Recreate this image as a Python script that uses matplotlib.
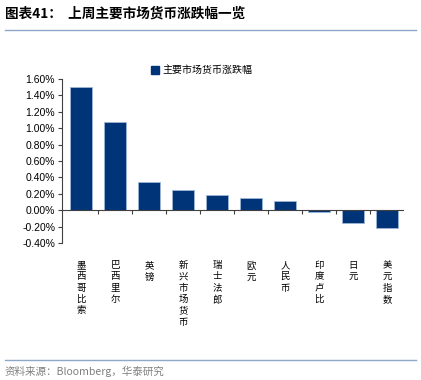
import matplotlib
matplotlib.use("Agg")
import matplotlib.pyplot as plt
from matplotlib.lines import Line2D
from matplotlib.transforms import blended_transform_factory

plt.rcParams['font.family'] = ['Liberation Sans', 'Noto Sans CJK SC', 'DejaVu Sans']

categories = ['墨西哥比索', '巴西里尔', '英镑', '新兴市场货币', '瑞士法郎',
              '欧元', '人民币', '印度卢比', '日元', '美元指数']
values = [1.50, 1.07, 0.35, 0.25, 0.18, 0.145, 0.11, -0.02, -0.16, -0.22]
yticks = [-0.4, -0.2, 0.0, 0.2, 0.4, 0.6, 0.8, 1.0, 1.2, 1.4, 1.6]
series_name = '主要市场货币涨跌幅'
title_text = '图表41：  上周主要市场货币涨跌幅一览'
source_text = '资料来源：Bloomberg，华泰研究'

W, H = 421, 380
fig = plt.figure(figsize=(W / 100, H / 100), dpi=100)
ax = fig.add_axes([62 / W, 1 - 243 / H, (403 - 62) / W, (243 - 79) / H])

bar_color = '#003478'
x = list(range(len(categories)))
ax.bar(x, values, width=0.66, color=bar_color, edgecolor='#9fb6d6', linewidth=0.6, zorder=2)

ax.set_xlim(-0.56, 9.47)
ax.set_ylim(-0.4, 1.6)
ax.set_yticks(yticks)
ax.set_yticklabels([f'{v:.2f}%' for v in yticks], fontsize=7.5, color='#000000')
ax.tick_params(axis='y', direction='out', length=3, width=0.8, color='#404040', pad=2)

for s in ['top', 'right']:
    ax.spines[s].set_visible(False)
ax.spines['left'].set_color('#404040')
ax.spines['left'].set_linewidth(0.8)
ax.spines['bottom'].set_position(('data', 0))
ax.spines['bottom'].set_color('#404040')
ax.spines['bottom'].set_linewidth(0.8)
ax.spines['bottom'].set_zorder(3)

ax.set_xticks(x)
ax.set_xticklabels([''] * len(x))
ax.tick_params(axis='x', which='major', length=0)
ax.set_xticks([i + 0.5 for i in range(len(x) - 1)], minor=True)
ax.tick_params(axis='x', which='minor', direction='out', length=3, width=0.8, color='#404040')

trans = blended_transform_factory(ax.transData, ax.transAxes)
for i, lab in enumerate(categories):
    ax.text(i, -0.11, '\n'.join(lab), transform=trans, ha='center', va='top',
            fontsize=6.8, linespacing=1.32, family=['Noto Sans CJK SC', 'DejaVu Sans'])

handle = Line2D([], [], marker='s', linestyle='none', markersize=5.5,
                markerfacecolor=bar_color, markeredgecolor=bar_color)
fig.legend([handle], [series_name], loc='center left',
           bbox_to_anchor=(150 / W, 1 - 70 / H), frameon=False,
           prop={'family': ['Noto Sans CJK SC', 'DejaVu Sans'], 'size': 7.2},
           handletextpad=0.2, handlelength=1.0, borderaxespad=0, borderpad=0)

fig.text(5 / W, 1 - 14 / H, title_text, ha='left', va='center', fontsize=9.8,
         fontweight='bold', family=['Noto Sans CJK SC', 'DejaVu Sans'])
fig.add_artist(Line2D([5 / W, 416 / W], [1 - 30 / H, 1 - 30 / H], color='#8da8c8', linewidth=1.0))
fig.add_artist(Line2D([5 / W, 416 / W], [1 - 360 / H, 1 - 360 / H], color='#8da8c8', linewidth=1.0))
fig.text(5 / W, 1 - 371 / H, source_text, ha='left', va='center', fontsize=7.6,
         color='#808080', family=['Noto Sans CJK SC', 'DejaVu Sans'])

fig.savefig('out.png', dpi=100)
